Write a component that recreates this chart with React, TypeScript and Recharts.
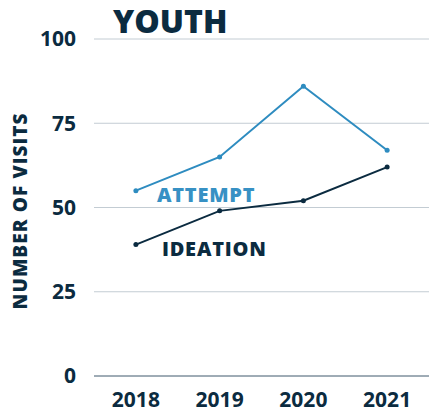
import React from 'react';
import { LineChart, Line, XAxis, YAxis, CartesianGrid, LabelList } from 'recharts';

const years = ['2018', '2019', '2020', '2021'];
const attempt = [55, 65, 86, 67];
const ideation = [39, 49, 52, 62];
const yTicks = [0, 25, 50, 75, 100];

const DARK = '#0b2b40';
const BLUE = '#2e8cc0';
const FONT = '"Open Sans", sans-serif';

const data = years.map((year, i) => ({ year, attempt: attempt[i], ideation: ideation[i] }));

// only the first point carries the series name
const seriesLabel = (text: string, color: string, dx: number) => (props: any) => {
  if (props.index !== 0) return null;
  return (
    <text
      x={props.x + dx}
      y={props.y + 11}
      fill={color}
      fontSize={20}
      fontWeight={800}
      fontFamily={FONT}
      letterSpacing={0.8}
    >
      {text}
    </text>
  );
};

const App: React.FC = () => {
  return (
    <div style={{ position: 'absolute', left: 0, top: 0, width: 429, height: 412 }}>
      <div
        style={{
          position: 'absolute',
          left: 113,
          top: 5,
          fontFamily: FONT,
          fontWeight: 800,
          fontSize: 32,
          lineHeight: 1,
          color: DARK,
        }}
      >
        YOUTH
      </div>
      <LineChart width={429} height={412} data={data} margin={{ top: 39, right: 0, bottom: 0, left: 0 }}>
        <CartesianGrid vertical={false} stroke="#c3ccd3" strokeWidth={1} />
        <XAxis
          dataKey="year"
          scale="band"
          height={36}
          tickLine={false}
          tickSize={0}
          tickMargin={16}
          axisLine={{ stroke: '#5c7282', strokeWidth: 1 }}
          tick={{ fill: DARK, fontSize: 21, fontWeight: 700, fontFamily: FONT }}
        />
        <YAxis
          width={94}
          domain={[0, 100]}
          ticks={yTicks}
          axisLine={false}
          tickLine={false}
          tickSize={0}
          tickMargin={18}
          tick={{ fill: DARK, fontSize: 21, fontWeight: 700, fontFamily: FONT }}
          label={{
            content: () => (
              <text
                x={20}
                y={211}
                transform="rotate(-90, 20, 211)"
                textAnchor="middle"
                dominantBaseline="central"
                fill={DARK}
                fontSize={19}
                fontWeight={800}
                fontFamily={FONT}
                letterSpacing={1.1}
              >
                NUMBER OF VISITS
              </text>
            ),
          }}
        />
        <Line
          type="linear"
          dataKey="attempt"
          stroke={BLUE}
          strokeWidth={2}
          dot={{ r: 2.5, fill: BLUE, stroke: BLUE, strokeWidth: 0 }}
          activeDot={false}
          isAnimationActive={false}
        >
          <LabelList dataKey="attempt" content={seriesLabel('ATTEMPT', '#3791c4', 21)} />
        </Line>
        <Line
          type="linear"
          dataKey="ideation"
          stroke={DARK}
          strokeWidth={2}
          dot={{ r: 2.5, fill: DARK, stroke: DARK, strokeWidth: 0 }}
          activeDot={false}
          isAnimationActive={false}
        >
          <LabelList dataKey="ideation" content={seriesLabel('IDEATION', DARK, 26)} />
        </Line>
      </LineChart>
    </div>
  );
};

export default App;
